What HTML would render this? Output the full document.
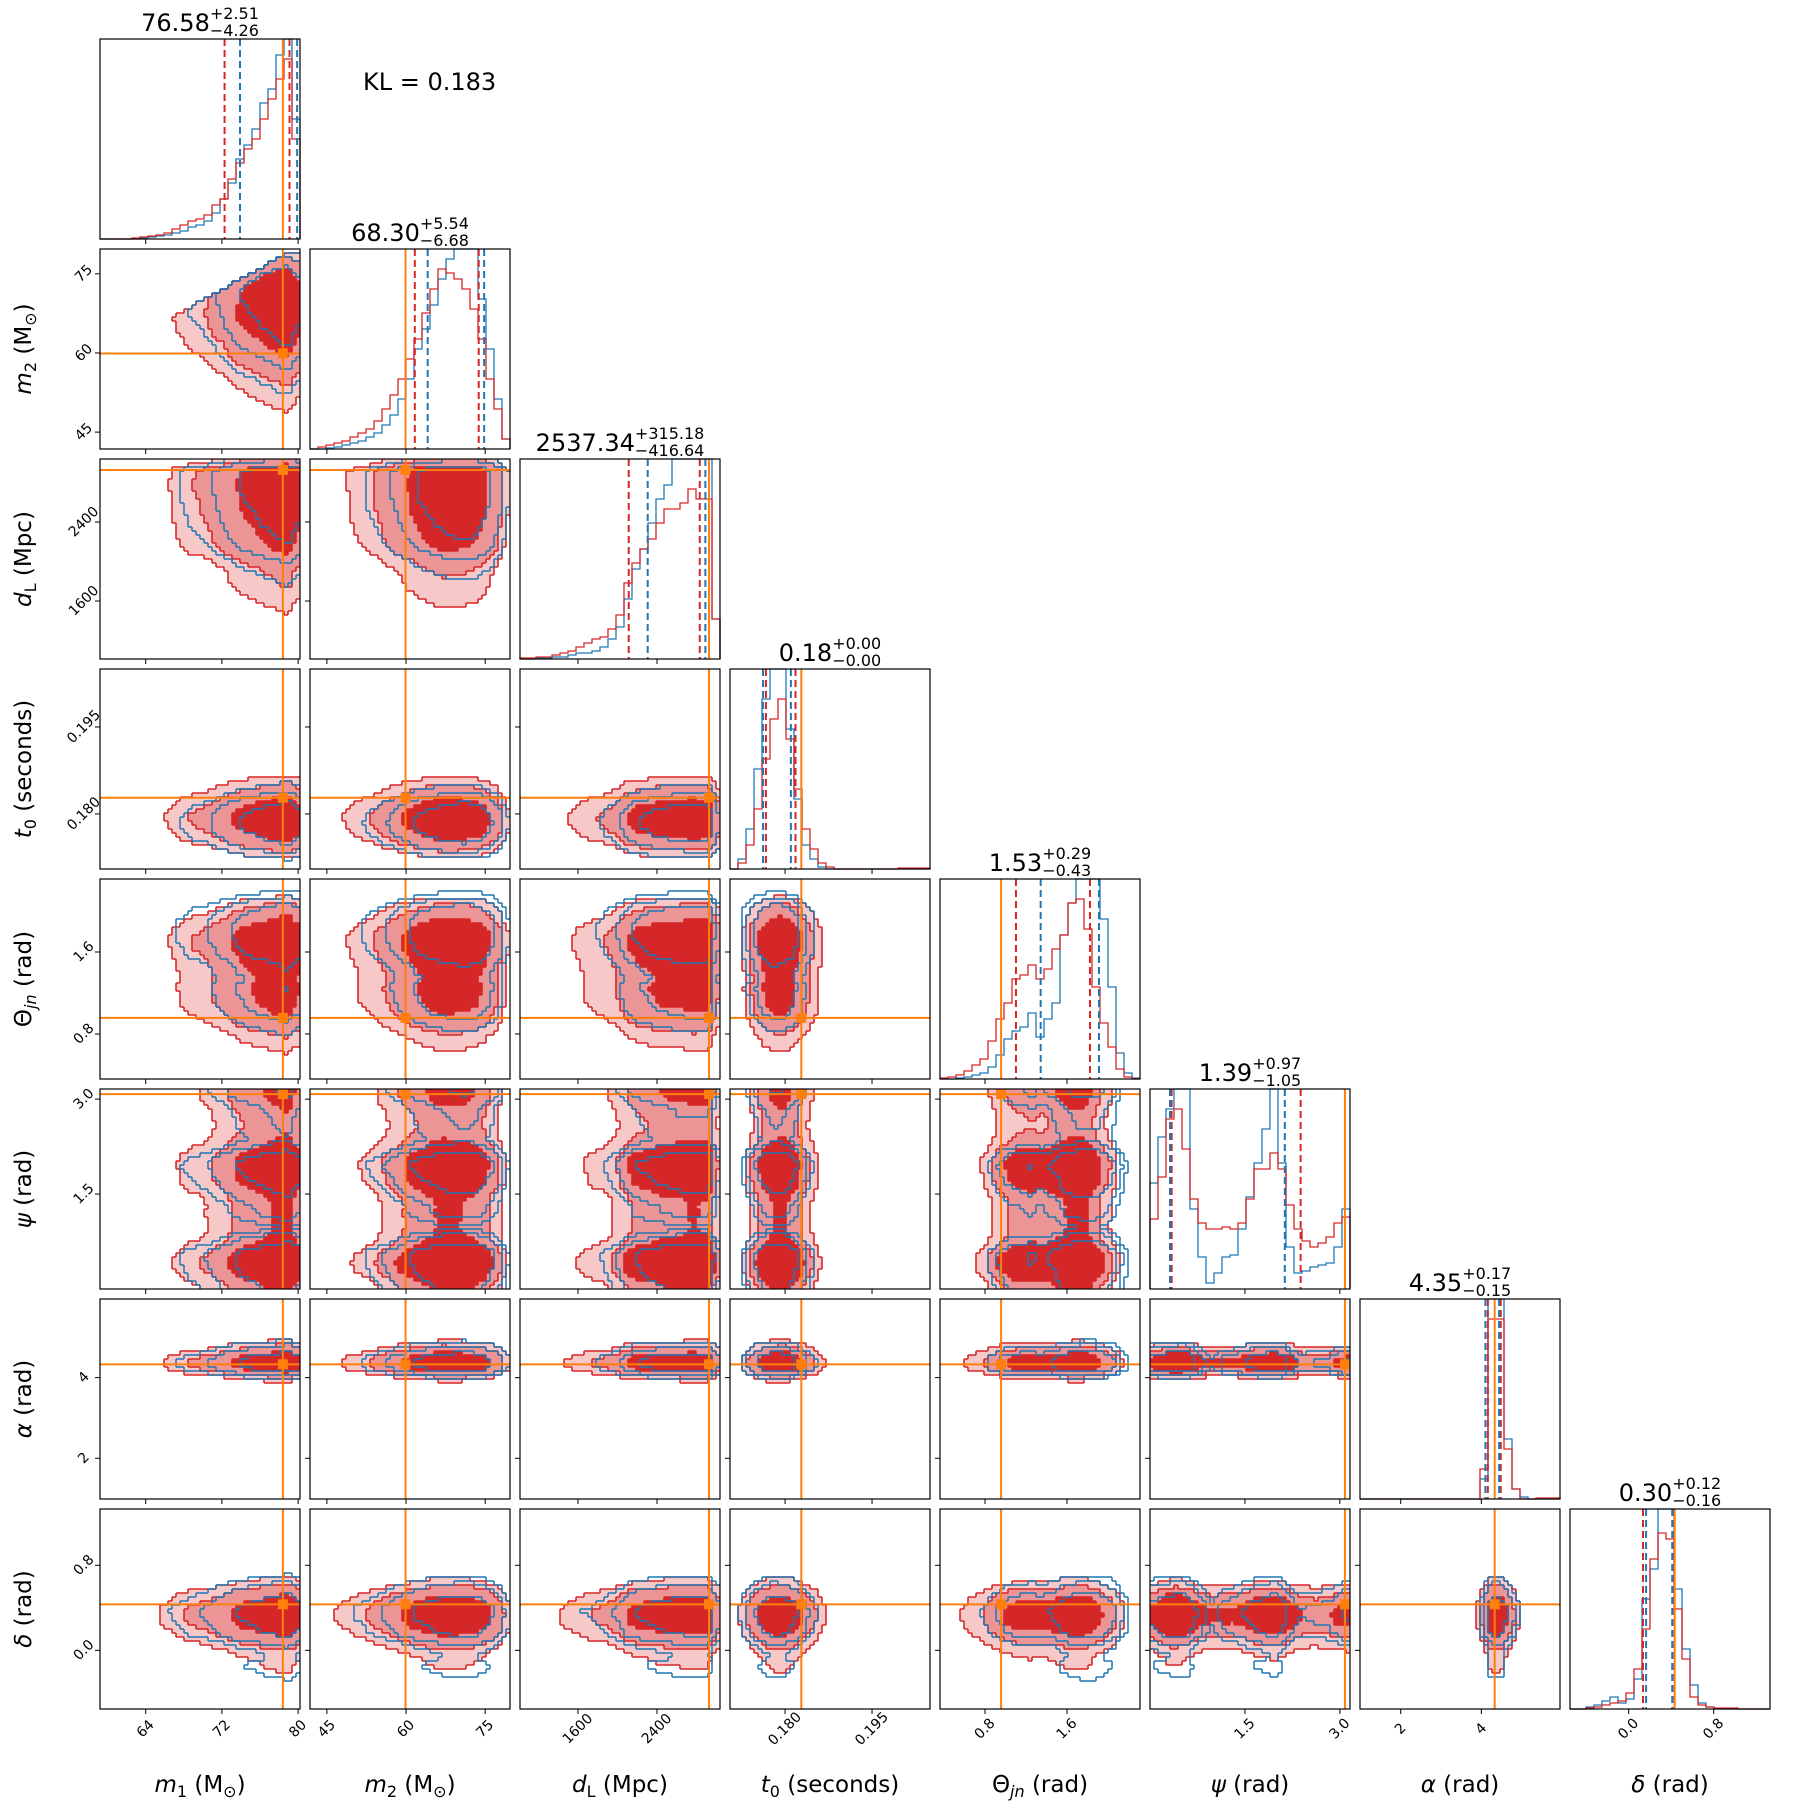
<!DOCTYPE html>
<html><head><meta charset="utf-8"><style>
html,body{margin:0;padding:0;background:#fff;}
svg{display:block;font-family:"DejaVu Sans","Liberation Sans",sans-serif;}
</style></head><body>
<svg id="c" width="1809" height="1809" xmlns="http://www.w3.org/2000/svg">
<rect width="1809" height="1809" fill="#fff"/>
<text x="363" y="90" font-size="24" fill="#000">KL = 0.183</text>
</svg>
<script>
const lo=[59.2,41.8,1013,0.1705,0.361,0.0,0.99,-0.552];
const hi=[80.2,79.7,3038,0.2050,2.312,3.16,5.95,1.33];
const truth=[78.4,59.9,2927,0.1828,0.957,3.08,4.33,0.433];
const qRedLo=[72.28,61.66,2114,0.1767,1.102,0.342,4.16,0.135];
const qRedHi=[79.1,73.77,2833,0.1818,1.824,2.38,4.48,0.414];
const qBlueLo=[73.9,64.1,2306,0.1762,1.343,0.316,4.10,0.164];
const qBlueHi=[79.9,74.8,2890,0.1810,1.912,2.13,4.44,0.410];
const redM1=[0,0,0,0,.005,.01,.015,.02,.03,.05,.07,.09,.1,.12,.17,.2,.3,.38,.45,.5,.6,.7,.8,.9,.5];
const blueM1=[0,0,0,0,0,.005,.01,.015,.02,.03,.04,.06,.07,.09,.13,.2,.28,.4,.47,.55,.68,.75,.92,1.1,.6];
const redM2=[0,.01,.02,.03,.04,.06,.08,.1,.14,.2,.27,.35,.45,.55,.68,.8,.9,.88,.85,.8,.7,.55,.35,.2,.05];
const blueM2=[0,0,.005,.01,.02,.03,.04,.06,.08,.12,.17,.25,.35,.5,.6,.72,.85,.95,1.05,1.1,1.0,.75,.5,.25,.05];
const redDL=[.005,.005,.01,.01,.02,.03,.04,.06,.08,.1,.11,.15,.22,.38,.48,.55,.6,.68,.75,.75,.78,.85,.8,.8,.2];
const blueDL=[0,0,.005,.005,.01,.01,.02,.03,.03,.04,.06,.1,.16,.3,.45,.55,.68,.8,.87,1.05,1.1,1.1,1.1,1.1,.2];
const redT0=[0,.03,.12,.3,.55,.75,.85,.65,.4,.2,.1,.03,.01,0,0,0,0,0,0,0,0,.005,.005,.005,.005];
const blueT0=[0,.05,.2,.5,.85,1.1,1.0,.7,.35,.12,.05,.01,0,0,0,0,0,0,0,0,0,0,0,0,0];
const redTheta=[.005,.01,.02,.04,.07,.1,.19,.3,.38,.5,.52,.57,.5,.55,.65,.72,.88,.9,.75,.46,.28,.16,.05,.01,0];
const blueTheta=[0,0,.005,.01,.02,.03,.06,.12,.2,.24,.26,.33,.21,.3,.38,.72,.88,1.1,1.1,1.1,.8,.46,.13,.03,.005];
const redPsi=[.35,.56,.85,.9,.7,.45,.33,.3,.3,.31,.3,.33,.45,.6,.6,.68,.6,.42,.3,.24,.21,.23,.26,.33,.36];
const bluePsi=[.53,.76,.9,1.05,1.05,.4,.16,.03,.08,.16,.17,.3,.46,.63,.8,1.1,.63,.21,.08,.09,.11,.12,.13,.21,.4];
const redAlpha=[0,0,0,0,0,0,0,0,0,0,0,0,0,0,0,.15,.9,.9,.25,.05,0,0,.005,.005,.005];
const blueAlpha=[0,0,0,0,0,0,0,0,0,0,0,0,0,0,0,.1,1.1,1.1,.3,.05,.01,0,0,0,0];
const redDelta=[0,0,.005,.01,.02,.03,.04,.08,.2,.4,.75,.88,.85,.5,.25,.06,.02,.01,.005,.005,.005,0,0,0,0];
const blueDelta=[0,0,.01,.02,.04,.06,.03,.05,.15,.55,.7,1.05,1.1,.6,.3,.12,.03,.01,0,0,0,0,0,0,0];
const tickVals=[[64,72,80],[45,60,75],[1600,2400],[0.180,0.195],[0.8,1.6],[1.5,3.0],[2,4],[0.0,0.8]];
const tickLabels=[["64","72","80"],["45","60","75"],["1600","2400"],["0.180","0.195"],["0.8","1.6"],["1.5","3.0"],["2","4"],["0.0","0.8"]];
const titleMain=['76.58','68.30','2537.34','0.18','1.53','1.39','4.35','0.30'];
const titlePlus=['+2.51','+5.54','+315.18','+0.00','+0.29','+0.97','+0.17','+0.12'];
const titleMinus=['\u22124.26','\u22126.68','\u2212416.64','\u22120.00','\u22120.43','\u22121.05','\u22120.15','\u22120.16'];
const names=['m1','m2','dl','t0','theta-jn','psi','alpha','delta'];

const redH=[redM1,redM2,redDL,redT0,redTheta,redPsi,redAlpha,redDelta];
const blueH=[blueM1,blueM2,blueDL,blueT0,blueTheta,bluePsi,blueAlpha,blueDelta];
const NS='http://www.w3.org/2000/svg';
const svg=document.getElementById('c');
const S=200, P=210, N=8;
const RED='#d62728', BLUE='#1f77b4', ORANGE='#ff7f0e';
function L(i){return 100+P*i;}
function T(i){return 39+P*i;}
function xs(j,v){return L(j)+(v-lo[j])/(hi[j]-lo[j])*S;}
function ys(i,v){return T(i)+S-(v-lo[i])/(hi[i]-lo[i])*S;}
function mk(tag,attrs,parent){const e=document.createElementNS(NS,tag);for(const k in attrs)e.setAttribute(k,attrs[k]);(parent||svg).appendChild(e);return e;}
function interp(h,j,v){const nb=h.length;let t=(v-lo[j])/(hi[j]-lo[j])*nb-0.5;let k=Math.floor(t);const f=t-k;const a=h[Math.max(0,Math.min(nb-1,k))],b=h[Math.max(0,Math.min(nb-1,k+1))];return a*(1-f)+b*f;}

const G=50;
function grid(i,j,hs){const vals=new Float64Array(G*G);
 for(let r=0;r<G;r++){const vy=hi[i]-(r+0.5)/G*(hi[i]-lo[i]);
  for(let c=0;c<G;c++){const vx=lo[j]+(c+0.5)/G*(hi[j]-lo[j]);
   let v=interp(hs[j],j,vx)*interp(hs[i],i,vy);
   if(j===0&&i===1&&vy>vx)v=0;
   vals[r*G+c]=v;}}
 return vals;}
function thresholds(vals,levels){const s=Array.from(vals).sort((a,b)=>b-a);const tot=s.reduce((a,b)=>a+b,0);
 return levels.map(lv=>{let cum=0;for(let k=0;k<s.length;k++){cum+=s[k];if(cum>=lv*tot)return Math.max(s[k],1e-12);}return 1e-12;});}
function fillPath(vals,thr,x0,y0){const cw=S/G;let d='';
 for(let r=0;r<G;r++){let c=0;while(c<G){if(vals[r*G+c]>=thr){let s=c;while(c<G&&vals[r*G+c]>=thr)c++;d+=`M${(x0+s*cw).toFixed(2)} ${(y0+r*cw).toFixed(2)}h${((c-s)*cw).toFixed(2)}v${cw.toFixed(2)}h${(-(c-s)*cw).toFixed(2)}z`;}else c++;}}
 return d;}
function outlinePath(vals,thr,x0,y0){const cw=S/G;let d='';const m=(r,c)=>vals[r*G+c]>=thr;
 for(let r=0;r<G;r++)for(let c=0;c<G;c++){if(!m(r,c))continue;const X=x0+c*cw,Y=y0+r*cw;
  if(c+1<G&&!m(r,c+1))d+=`M${(X+cw).toFixed(2)} ${Y.toFixed(2)}v${cw.toFixed(2)}`;
  if(c>0&&!m(r,c-1))d+=`M${X.toFixed(2)} ${Y.toFixed(2)}v${cw.toFixed(2)}`;
  if(r+1<G&&!m(r+1,c))d+=`M${X.toFixed(2)} ${(Y+cw).toFixed(2)}h${cw.toFixed(2)}`;
  if(r>0&&!m(r-1,c))d+=`M${X.toFixed(2)} ${Y.toFixed(2)}h${cw.toFixed(2)}`;}
 return d;}
function histPath(h,i){const B=T(i)+S,w=S/h.length;let d=`M${L(i)} ${B}`;
 for(let k=0;k<h.length;k++){const x0=L(i)+k*w;const y=Math.max(T(i),B-h[k]*S);d+=` L${x0.toFixed(2)} ${y.toFixed(2)} H${(x0+w).toFixed(2)}`;}
 return d+` L${L(i)+S} ${B}`;}

const LEVELS=[0.6,0.88,0.96];
const FILLS=['#f6c8c8','#eb9596',RED];

for(let i=1;i<N;i++)for(let j=0;j<i;j++){
 const g=mk('g',{});
 
 
 const x0=L(j),y0=T(i);
 const rv=grid(i,j,redH),bv=grid(i,j,blueH);
 const rt=thresholds(rv,LEVELS),bt=thresholds(bv,LEVELS);
 for(let k=2;k>=0;k--){const p=mk('path',{d:fillPath(rv,rt[k],x0,y0),fill:FILLS[2-k]},g);
  
  }
 for(let k=0;k<3;k++){const p=mk('path',{d:outlinePath(rv,rt[k],x0,y0),stroke:RED,'stroke-width':1.6,fill:'none'},g);
  
  }
 for(let k=0;k<3;k++){const p=mk('path',{d:outlinePath(bv,bt[k],x0,y0),stroke:BLUE,'stroke-width':1.5,fill:'none'},g);
  
  }
 const vx=xs(j,truth[j]),hy=ys(i,truth[i]);
 const tv=mk('line',{x1:vx,x2:vx,y1:y0,y2:y0+S,stroke:ORANGE,'stroke-width':2},g);
 
 
 const th=mk('line',{x1:x0,x2:x0+S,y1:hy,y2:hy,stroke:ORANGE,'stroke-width':2},g);
 
 
 const tm=mk('rect',{x:vx-5,y:hy-5,width:10,height:10,fill:ORANGE},g);
 
 
 const fr=mk('rect',{x:x0,y:y0,width:S,height:S,fill:'none',stroke:'#000','stroke-width':1.2},g);
 
 
}

for(let i=0;i<N;i++){
 const g=mk('g',{});
 
 
 const hb=mk('path',{d:histPath(blueH[i],i),stroke:BLUE,'stroke-width':1.3,fill:'none'},g);
 
 
 const hr=mk('path',{d:histPath(redH[i],i),stroke:RED,'stroke-width':1.3,fill:'none'},g);
 
 
 const qs=[[qRedLo[i],RED],[qRedHi[i],RED],[qBlueLo[i],BLUE],[qBlueHi[i],BLUE]];
 for(const q of qs){const x=xs(i,q[0]);const l=mk('line',{x1:x,x2:x,y1:T(i),y2:T(i)+S,stroke:q[1],'stroke-width':2,'stroke-dasharray':'7,4'},g);
  
  }
 const tx=xs(i,truth[i]);
 const tl=mk('line',{x1:tx,x2:tx,y1:T(i),y2:T(i)+S,stroke:ORANGE,'stroke-width':2},g);
 
 
 const fr=mk('rect',{x:L(i),y:T(i),width:S,height:S,fill:'none',stroke:'#000','stroke-width':1.2},g);
 
 
 const tg=mk('g',{},svg);
 
 
 const base=T(i)-8;
 const m=mk('text',{x:0,y:base,'font-size':24,fill:'#000'},tg);m.textContent=titleMain[i];
 const sp=mk('text',{x:0,y:base-12,'font-size':16,fill:'#000'},tg);sp.textContent=titlePlus[i];
 const sb=mk('text',{x:0,y:base+5,'font-size':16,fill:'#000'},tg);sb.textContent=titleMinus[i];
 const wm=m.getComputedTextLength(),ws=Math.max(sp.getComputedTextLength(),sb.getComputedTextLength());
 const start=L(i)+S/2-(wm+ws)/2;
 m.setAttribute('x',start);sp.setAttribute('x',start+wm);sb.setAttribute('x',start+wm);
}

for(let i=0;i<N;i++)for(let j=0;j<=i;j++){
 for(let t=0;t<tickVals[j].length;t++){const x=xs(j,tickVals[j][t]);
  const tk=mk('line',{x1:x,x2:x,y1:T(i)+S,y2:T(i)+S+5,stroke:'#000','stroke-width':1});
  
  
  if(i===N-1){const lx=x,ly=T(i)+S+24;
   const tl=mk('text',{x:lx,y:ly,'font-size':14,'text-anchor':'middle',transform:`rotate(-45 ${lx} ${ly-4})`,fill:'#000'});
   tl.textContent=tickLabels[j][t];
   
   }}
 if(j<i){for(let t=0;t<tickVals[i].length;t++){const y=ys(i,tickVals[i][t]);
  const tk=mk('line',{x1:L(j)-5,x2:L(j),y1:y,y2:y,stroke:'#000','stroke-width':1});
  
  
  if(j===0){const lx=L(0)-16,ly=y+4;
   const tl=mk('text',{x:lx,y:ly,'font-size':14,'text-anchor':'middle',transform:`rotate(-45 ${lx} ${y})`,fill:'#000'});
   tl.textContent=tickLabels[i][t];
   
   }}}
}

const labelParts=[
 [['m','i'],['1','s'],[' (M',''],['\u2299','s'],[')','']],
 [['m','i'],['2','s'],[' (M',''],['\u2299','s'],[')','']],
 [['d','i'],['L','s'],[' (Mpc)','']],
 [['t','i'],['0','s'],[' (seconds)','']],
 [['\u0398',''],['jn','si'],[' (rad)','']],
 [['\u03c8','i'],[' (rad)','']],
 [['\u03b1','i'],[' (rad)','']],
 [['\u03b4','i'],[' (rad)','']]];
function addLabel(x,y,rot,parts,name){
 const t=mk('text',{x:x,y:y,'font-size':23,'text-anchor':'middle',fill:'#000',transform:rot?`rotate(-90 ${x} ${y})`:''});
 
 
 let shifted=false;
 for(const p of parts){const ts=mk('tspan',{},t);ts.textContent=p[0];
  const sub=p[1].includes('s');
  if(p[1].includes('i'))ts.setAttribute('font-style','italic');
  if(sub){ts.setAttribute('font-size',16);if(!shifted){ts.setAttribute('dy',5);shifted=true;}}
  else if(shifted){ts.setAttribute('dy',-5);shifted=false;}}
}
for(let j=0;j<N;j++)addLabel(L(j)+S/2,1792,false,labelParts[j],'x-axis-label-'+names[j]);
for(let i=1;i<N;i++)addLabel(31,T(i)+S/2,true,labelParts[i],'y-axis-label-'+names[i]);
</script>
</body></html>
